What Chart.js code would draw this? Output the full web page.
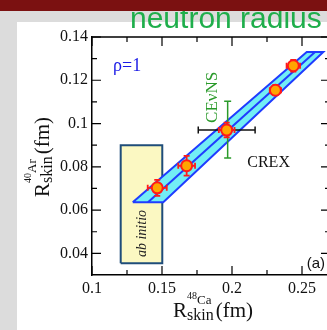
<!DOCTYPE html>
<html>
<head>
<meta charset="utf-8">
<script src="https://cdn.jsdelivr.net/npm/chart.js@4/dist/chart.umd.min.js"></script>
<style>
  html, body { margin: 0; padding: 0; width: 327px; height: 330px; overflow: hidden; background: #dcdcdc; }
  #topbar { position: absolute; left: 0; top: 0; width: 327px; height: 11px; background: #7b1111; z-index: 3; }
  #panel { position: absolute; left: 17px; top: 22px; width: 310px; height: 308px; background: #ffffff; z-index: 0; }
  #heading { position: absolute; left: 130px; top: 3px; font-family: "Liberation Sans", Arial, sans-serif; font-size: 30px; line-height: 1; color: #1fae4b; white-space: nowrap; z-index: 2; }
  #wrap { position: absolute; left: 0; top: 0; width: 340px; height: 330px; z-index: 1; }
</style>
</head>
<body>
<div id="topbar"></div>
<div id="panel"></div>
<div id="heading">neutron radius</div>
<div id="wrap"><canvas id="c" width="340" height="330"></canvas></div>
<script>
// axis ticks
const xTicks = [0.1, 0.15, 0.2, 0.25];
const xTickLabels = ['0.1', '0.15', '0.2', '0.25'];
const xMinorTicks = [0.125, 0.175, 0.225];
const yTicks = [0.04, 0.06, 0.08, 0.1, 0.12, 0.14];
const yTickLabels = ['0.04', '0.06', '0.08', '0.1', '0.12', '0.14'];
const yMinorTicks = [0.05, 0.07, 0.09, 0.11, 0.13];

// model predictions: 48Ca skin vs 40Ar skin, with uncertainties
const caSkin = [0.1466, 0.1676, 0.1962, 0.2310, 0.2438];
const arSkin = [0.0703, 0.0805, 0.0970, 0.1154, 0.1267];
const caSkinErr = [0.0068, 0.0060, 0.0056, 0.0040, 0.0048];
const arSkinErr = [0.0037, 0.0046, 0.0034, 0.0023, 0.0027];

// linear correlation band (corners) and its central line
const bandX = [0.1291, 0.1509, 0.2652, 0.2534];
const bandY = [0.0636, 0.0636, 0.1331, 0.1331];
const bandMidX = [0.1400, 0.2593];
const bandMidY = [0.0636, 0.1331];

// ab initio region
const abInitioX = [0.1205, 0.1502];
const abInitioY = [0.0354, 0.0900];

// CREX measurement of the 48Ca skin (horizontal bar)
const crexCa = [0.1962];
const crexCaErr = [0.0203];
const crexAr = [0.0970];

// CEvNS sensitivity on the 40Ar skin (vertical bar)
const cevnsCa = [0.1969];
const cevnsAr = [0.0972];
const cevnsArErr = [0.0131];

const SERIF = '"Liberation Serif", "Times New Roman", serif';
const SANS = '"Liberation Sans", Arial, sans-serif';

const toPts = (xs, ys) => xs.map((x, i) => ({ x, y: ys[i] }));
const closed = pts => pts.concat([pts[0]]);

const boxPts = closed([
  { x: abInitioX[0], y: abInitioY[0] },
  { x: abInitioX[1], y: abInitioY[0] },
  { x: abInitioX[1], y: abInitioY[1] },
  { x: abInitioX[0], y: abInitioY[1] }
]);

// error bars drawn just beneath the model markers
const errorBars = {
  id: 'errorBars',
  beforeDatasetDraw(chart, args) {
    if (args.index !== 0) return;
    const { ctx } = chart;
    const sx = chart.scales.x, sy = chart.scales.y;
    const hBar = (x0, x1, y, cap, color, w) => {
      const a = sx.getPixelForValue(x0), b = sx.getPixelForValue(x1), p = sy.getPixelForValue(y);
      ctx.strokeStyle = color; ctx.lineWidth = w;
      ctx.beginPath();
      ctx.moveTo(a, p); ctx.lineTo(b, p);
      ctx.moveTo(a, p - cap); ctx.lineTo(a, p + cap);
      ctx.moveTo(b, p - cap); ctx.lineTo(b, p + cap);
      ctx.stroke();
    };
    const vBar = (x, y0, y1, cap, color, w) => {
      const p = sx.getPixelForValue(x), a = sy.getPixelForValue(y0), b = sy.getPixelForValue(y1);
      ctx.strokeStyle = color; ctx.lineWidth = w;
      ctx.beginPath();
      ctx.moveTo(p, a); ctx.lineTo(p, b);
      ctx.moveTo(p - cap, a); ctx.lineTo(p + cap, a);
      ctx.moveTo(p - cap, b); ctx.lineTo(p + cap, b);
      ctx.stroke();
    };
    ctx.save();
    crexCa.forEach((x, i) => hBar(x - crexCaErr[i], x + crexCaErr[i], crexAr[i], 3.5, '#111111', 1.5));
    cevnsCa.forEach((x, i) => vBar(x, cevnsAr[i] - cevnsArErr[i], cevnsAr[i] + cevnsArErr[i], 3.5, '#2a9a2a', 1.5));
    caSkin.forEach((x, i) => {
      const y = arSkin[i];
      hBar(x - caSkinErr[i], x + caSkinErr[i], y, 3, '#ff1a1a', 1.8);
      vBar(x, y - arSkinErr[i], y + arSkinErr[i], 3, '#ff1a1a', 1.8);
    });
    ctx.restore();
  }
};

// mirrored axes, inward ticks, annotations and axis titles
const frame = {
  id: 'frame',
  afterDraw(chart) {
    const { ctx, chartArea: a } = chart;
    const sx = chart.scales.x, sy = chart.scales.y;
    const px = v => sx.getPixelForValue(v), py = v => sy.getPixelForValue(v);
    ctx.save();
    ctx.strokeStyle = '#000'; ctx.lineWidth = 1.5;
    ctx.beginPath();
    ctx.moveTo(a.left, a.top); ctx.lineTo(a.right, a.top);
    ctx.moveTo(a.right, a.top); ctx.lineTo(a.right, a.bottom);
    ctx.stroke();
    ctx.lineWidth = 1.2;
    ctx.beginPath();
    const xt = (v, len) => { const p = px(v); ctx.moveTo(p, a.bottom); ctx.lineTo(p, a.bottom - len); ctx.moveTo(p, a.top); ctx.lineTo(p, a.top + len); };
    const yt = (v, len) => { const p = py(v); ctx.moveTo(a.left, p); ctx.lineTo(a.left + len, p); ctx.moveTo(a.right, p); ctx.lineTo(a.right - len, p); };
    xTicks.forEach(v => xt(v, 9));
    xMinorTicks.forEach(v => xt(v, 5));
    yTicks.forEach(v => yt(v, 9));
    yMinorTicks.forEach(v => yt(v, 5));
    ctx.stroke();

    const text = (s, x, y, font, color, rot) => {
      ctx.save();
      ctx.translate(x, y);
      if (rot) ctx.rotate(-Math.PI / 2);
      ctx.font = font; ctx.fillStyle = color;
      ctx.textBaseline = 'alphabetic'; ctx.textAlign = 'left';
      ctx.fillText(s, 0, 0);
      ctx.restore();
    };
    text('\u03c1=1', px(0.115), py(0.1243), '18px ' + SERIF, '#1a1ae6', false);
    text('CE\u03bdNS', px(0.1893), py(0.1003), '17px ' + SERIF, '#2a9a2a', true);
    text('CREX', px(0.2109), py(0.0799), '16px ' + SERIF, '#111', false);
    text('(a)', px(0.2534), py(0.0332), '15px ' + SANS, '#111', false);
    text('ab initio', px(0.1386), py(0.0383), 'italic 14px ' + SERIF, '#222', true);

    // axis title: R with stacked nuclide superscript and "skin" subscript
    const title = (x0, y0, mass, elem, rot) => {
      ctx.save();
      ctx.translate(x0, y0);
      if (rot) ctx.rotate(-Math.PI / 2);
      ctx.fillStyle = '#111'; ctx.textBaseline = 'alphabetic'; ctx.textAlign = 'left';
      ctx.font = '21px ' + SERIF;
      ctx.fillText('R', 0, 0);
      const rw = ctx.measureText('R').width;
      ctx.font = '10px ' + SERIF;
      ctx.fillText(mass, rw, -18.5);
      const mw = ctx.measureText(mass).width;
      ctx.font = '13px ' + SERIF;
      ctx.fillText(elem, rw + mw, -13.5);
      const ew = ctx.measureText(elem).width;
      ctx.font = '16px ' + SERIF;
      ctx.fillText('skin', rw, 3);
      const sw = ctx.measureText('skin').width;
      ctx.font = '21px ' + SERIF;
      ctx.fillText('(fm)', rw + Math.max(mw + ew, sw) + 2, 0);
      ctx.restore();
    };
    title(173, 317, '48', 'Ca', false);
    title(49, 197, '40', 'Ar', true);
    ctx.restore();
  }
};

new Chart(document.getElementById('c'), {
  type: 'scatter',
  data: {
    datasets: [
      {
        data: toPts(caSkin, arSkin),
        pointRadius: 5.5,
        pointBackgroundColor: '#ffa500',
        pointBorderColor: '#ff1a1a',
        pointBorderWidth: 2,
        showLine: false
      },
      {
        data: toPts(bandMidX, bandMidY),
        showLine: true, pointRadius: 0,
        borderColor: '#1f3cff', borderWidth: 2, fill: false
      },
      {
        data: closed(toPts(bandX, bandY)),
        showLine: true, pointRadius: 0,
        borderColor: '#1f3cff', borderWidth: 2,
        backgroundColor: '#72eef5', fill: 'shape'
      },
      {
        data: boxPts,
        showLine: true, pointRadius: 0,
        borderColor: '#1f4d7a', borderWidth: 2,
        backgroundColor: '#fbf8c2', fill: 'shape'
      }
    ]
  },
  options: {
    responsive: false,
    animation: false,
    devicePixelRatio: 1,
    layout: { padding: { left: 0, right: 10, top: 37, bottom: 0 } },
    plugins: { legend: { display: false }, tooltip: { enabled: false } },
    scales: {
      x: {
        type: 'linear', min: 0.1, max: 0.27,
        afterBuildTicks: s => { s.ticks = xTicks.map(v => ({ value: v })); },
        afterFit: s => { s.height = 55; },
        grid: { display: false, drawTicks: false },
        border: { display: true, color: '#000', width: 1.5 },
        ticks: {
          autoSkip: false, maxRotation: 0, padding: 4, color: '#111',
          font: { family: SERIF, size: 16 },
          callback: (v, i) => xTickLabels[i]
        }
      },
      y: {
        type: 'linear', min: 0.03, max: 0.14,
        afterBuildTicks: s => { s.ticks = yTicks.map(v => ({ value: v })); },
        afterFit: s => { s.width = 92; },
        grid: { display: false, drawTicks: false },
        border: { display: true, color: '#000', width: 1.5 },
        ticks: {
          autoSkip: false, padding: 4, color: '#111',
          font: { family: SERIF, size: 16 },
          callback: (v, i) => yTickLabels[i]
        }
      }
    }
  },
  plugins: [errorBars, frame]
});
</script>
</body>
</html>
